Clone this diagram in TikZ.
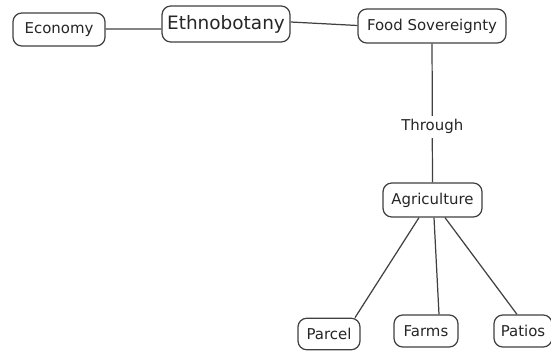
\documentclass[tikz,border=0pt]{standalone}
\usepackage{fontspec}
\setmainfont{DejaVu Sans}
\tikzset{
  >=latex,
  concept/.style = {draw=black!75, line width=0.7pt, rounded corners=5pt,
                    fill=white, inner sep=0, font=\fontsize{8.5}{10}\selectfont,
                    text=black!85},
  link/.style = {draw=black!75, line width=0.7pt},
}
\begin{document}
\begin{tikzpicture}[x=0.02cm, y=-0.02cm]
\useasboundingbox (0,0) rectangle (551,351);
\node[concept, minimum width=1.84cm, minimum height=0.66cm] (E) at (59,29.5) {Economy};
\node[concept, minimum width=2.56cm, minimum height=0.72cm, font=\fontsize{10.5}{12}\selectfont] (B) at (226,24) {Ethnobotany};
\node[concept, minimum width=2.96cm, minimum height=0.68cm] (F) at (432,26) {Food Sovereignty};
\node[concept, minimum width=1.98cm, minimum height=0.68cm] (A) at (432.5,200) {Agriculture};
\node[concept, minimum width=1.24cm, minimum height=0.63cm] (P) at (329,334) {Parcel};
\node[concept, minimum width=1.28cm, minimum height=0.64cm] (M) at (426,331) {Farms};
\node[concept, minimum width=1.16cm, minimum height=0.64cm] (T) at (523,331) {Patios};
\path[link] (E.east |- 0,29) -- (B.west |- 0,29)
            (B.east |- 0,22) -- (F.west |- 0,25.5);
\path[link] (F) -- node[pos=0.6, fill=white, font=\fontsize{8.5}{10}\selectfont, text=black!85, inner sep=2pt] (thr) {Through} (A);
\path[link] (A.south -| 419,0) -- (P.north east -| 355,0)
            (A.south -| 434,0) -- (M.north -| 439,0)
            (A.south -| 445,0) -- (T.north -| 517,0);
\end{tikzpicture}
\end{document}
